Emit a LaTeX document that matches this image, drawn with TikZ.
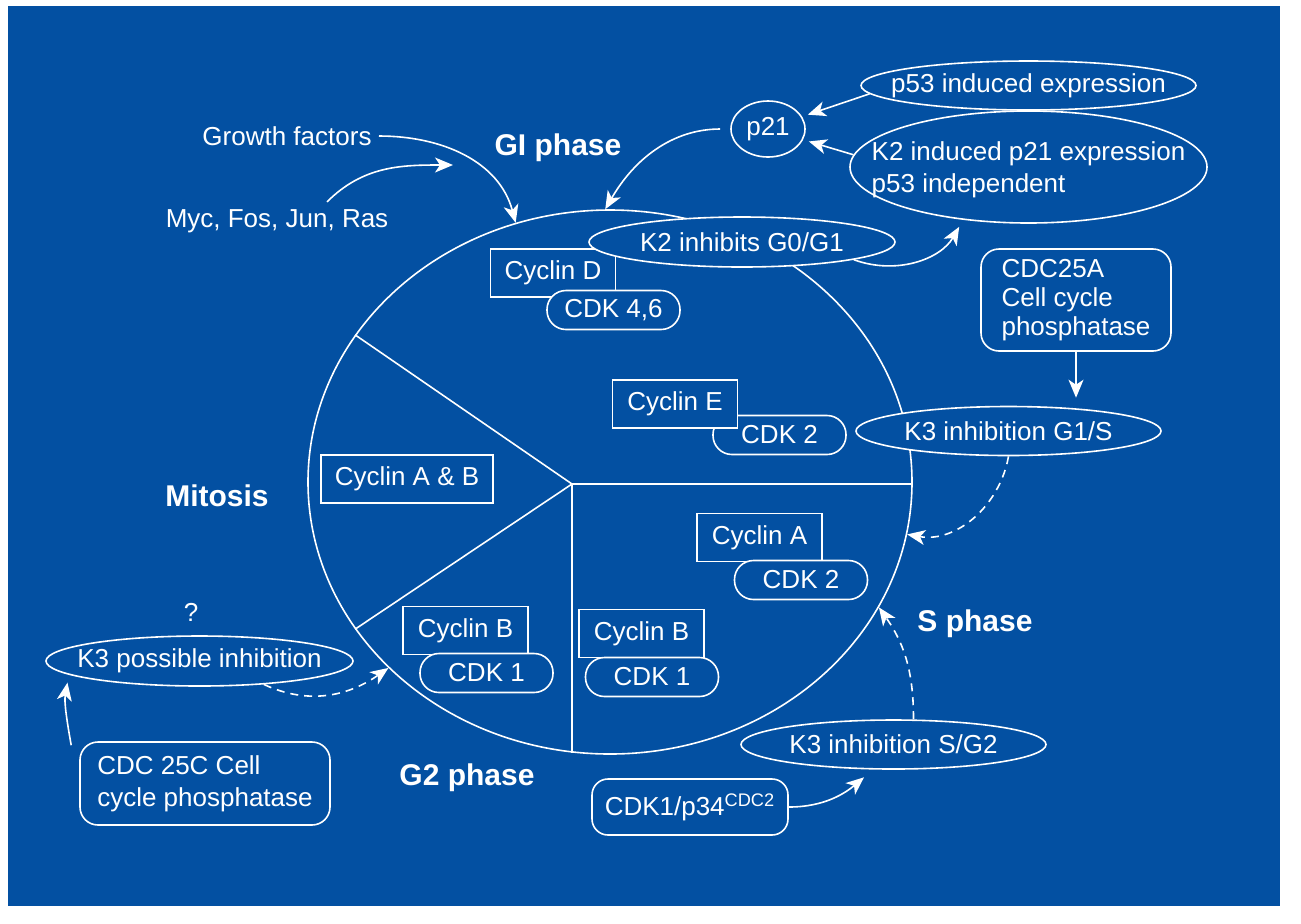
\documentclass[tikz,border=0pt]{standalone}
\usepackage{fontspec}
\setmainfont{Liberation Sans}
\usetikzlibrary{shapes.geometric,arrows.meta}
\definecolor{bg}{RGB}{3,80,162}
\begin{document}
\begin{tikzpicture}[x=0.5pt, y=0.5pt, white, line width=0.8pt,
  every node/.style={text=white, font=\fontsize{13}{16}\selectfont},
  cyc/.style={draw=white, fill=bg, minimum width=62.5pt, minimum height=24pt, inner sep=0pt},
  cdk/.style={draw=white, fill=bg, rounded corners=9.5pt, minimum width=66.5pt, minimum height=19.5pt, inner sep=0pt},
  oval/.style={draw=white, fill=bg, ellipse, inner sep=0pt},
  note/.style={draw=white, fill=bg, rounded corners=9pt, align=left, inner sep=0pt},
  phase/.style={font=\fontsize{15}{18}\selectfont\bfseries},
  arr/.style={-{Stealth[length=9pt, width=7.5pt, inset=2.5pt]}},
  dsh/.style={arr, dash pattern=on 4pt off 3pt}]

\useasboundingbox (0,0) rectangle (1301,-923);
\fill[white] (0,0) rectangle (1301,-923);
\fill[bg] (8,-6) rectangle (1280,-906);

% the cell and its phases
\node (cell) at (610,-482) [draw=white, ellipse, minimum width=302pt, minimum height=272pt, inner sep=0pt] {};
\coordinate (hub) at (572,-484);
\draw (hub) -- (cell.150);
\draw (hub) -- (cell.210);
\draw (hub) -- (hub -| cell.east);
\draw (hub) -- (hub |- cell.262);

\node (cycD) at (553,-273) [cyc] {Cyclin D};
\node (cdk46) at (613.5,-310) [cdk] {CDK 4,6};
\node (k2inh) at (742,-242) [oval, minimum width=153pt, minimum height=25pt, label=center:K2 inhibits G0/G1] {};

\node (cdk2e) at (779.5,-435) [cdk] {CDK 2};
\node (cycE) at (675,-404) [cyc] {Cyclin E};
\node (k3gs) at (1008.5,-431) [oval, minimum width=152.5pt, minimum height=24.5pt, label=center:K3 inhibition G1/S] {};

\node (cycAB) at (407,-479) [cyc, minimum width=86pt] {Cyclin A \& B};
\node (cycA) at (759.5,-537.5) [cyc] {Cyclin A};
\node (cdk2a) at (801,-580) [cdk] {CDK 2};
\node (cycBr) at (641.5,-633.5) [cyc] {Cyclin B};
\node (cdk1r) at (652,-677) [cdk] {CDK 1};
\node (cycBl) at (465.5,-630.5) [cyc] {Cyclin B};
\node (cdk1l) at (486.5,-673) [cdk] {CDK 1};

% phase names
\node (g1lbl) at (558,-148) [phase] {GI phase};
\node (mitlbl) at (217,-496) [phase] {Mitosis};
\node (slbl) at (975,-624) [phase] {S phase};
\node (g2lbl) at (467,-778) [phase] {G2 phase};

% around the cell
\node (gf) at (287,-136) {Growth factors};
\node (myc) at (277,-221) {Myc, Fos, Jun, Ras};
\coordinate (gfin) at (453,-165);
\node (p21) at (768,-129) [oval, minimum width=37pt, minimum height=28pt] {p21};
\node (p53) at (1028.5,-85.5) [oval, minimum width=167.5pt, minimum height=24.5pt, label=center:p53 induced expression] {};
\node (k2ind) at (1028.5,-167) [oval, minimum width=178.5pt, minimum height=56pt,
  label={[align=left, yshift=-1.5pt]center:K2 induced p21 expression\\p53 independent}] {};
\node (cdc25a) at (1076,-300) [note, minimum width=95pt, minimum height=51pt, font=\fontsize{13}{14.5}\selectfont] {CDC25A\\Cell cycle\\phosphatase};
\node (k3sg) at (893.5,-744.5) [oval, minimum width=152.5pt, minimum height=24.5pt, label=center:K3 inhibition S/G2] {};
\node (cdk1p) at (690,-807) [note, rounded corners=8pt, minimum width=98pt, minimum height=28pt] {CDK1/p34\textsuperscript{CDC2}};
\node (qm) at (191,-612) {?};
\node (k3pos) at (199.5,-661) [oval, minimum width=153.5pt, minimum height=25pt, label=center:K3 possible inhibition] {};
\node (cdc25c) at (205,-783.5) [note, minimum width=125pt, minimum height=41.5pt] {CDC 25C Cell\\cycle phosphatase};

\draw[arr] (gf.east) to[out=0, in=105] (cell.110);
\draw[arr] ([xshift=25pt]myc.north) to[out=45, in=180] (gfin);
\draw[arr, shorten <=5pt] (p21.west) to[out=180, in=60] (cell.91);
\draw[arr, shorten >=3pt] (p53.183) -- (p21.20);
\draw[arr, shorten >=3pt] (k2ind.176) -- (p21.-17);
\draw[arr, shorten >=4pt] (k2inh.-9) to[out=-20, in=-120] (k2ind.219);
\draw[arr, shorten >=4pt] (cdc25a) -- (cdc25a |- k3gs.north);
\draw[dsh] (k3gs.south) to[out=-100, in=-10] (cell.-10);
\draw[dsh] ([xshift=10pt]k3sg.north) to[out=90, in=-55] (cell.-25);
\draw[arr, shorten >=6pt] (cdk1p.east) to[out=0, in=-140] (k3sg.231);
\draw[dsh] (k3pos.-20) to[out=-25, in=-145] (cell.220);
\draw[arr, shorten >=4pt] ([xshift=-4pt, yshift=-2pt]cdc25c.north west) to[out=100, in=-100] (k3pos.186);
\end{tikzpicture}
\end{document}
